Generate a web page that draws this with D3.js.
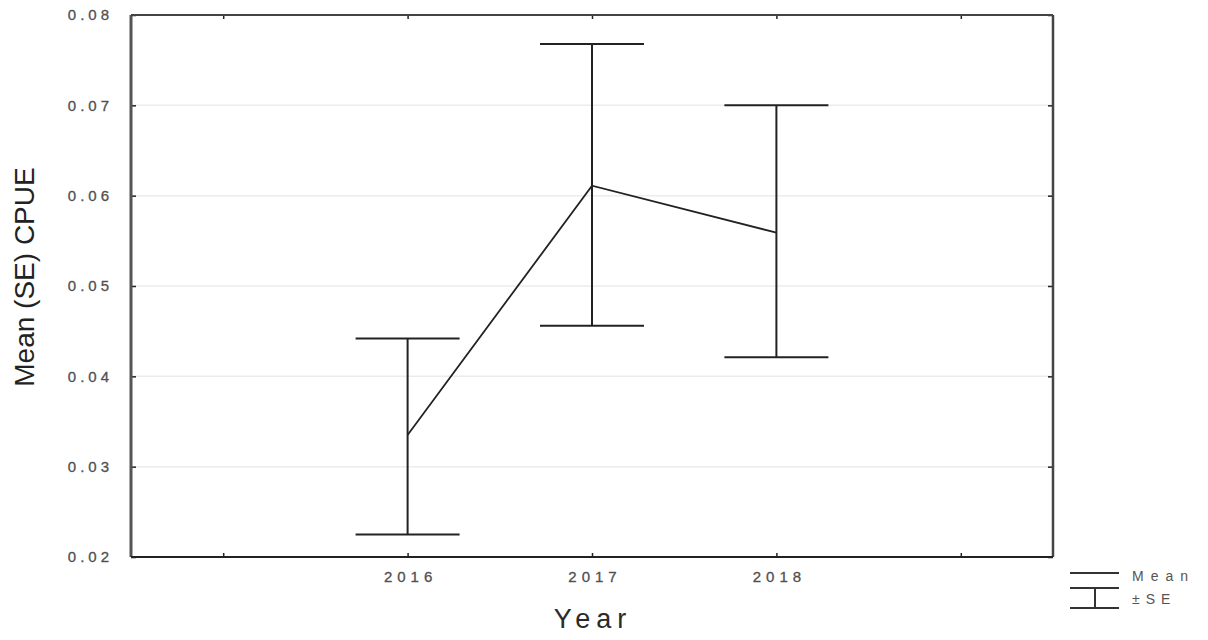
<!DOCTYPE html>
<html>
<head>
<meta charset="utf-8">
<script src="https://cdn.jsdelivr.net/npm/d3@7/dist/d3.min.js"></script>
<style>
  html, body { margin: 0; padding: 0; background: #fff; }
  svg { display: block; }
  text { font-family: "Liberation Sans", Arial, sans-serif; }
</style>
</head>
<body>
<svg id="chart" width="1208" height="640"></svg>
<script>
// Yearly mean CPUE with standard-error bounds
const years = [2016, 2017, 2018];
const meanCPUE = [0.0335, 0.0611, 0.0559];
const upperSE = [0.0442, 0.0768, 0.0700];
const lowerSE = [0.0225, 0.0456, 0.0421];
const yTicks = [0.02, 0.03, 0.04, 0.05, 0.06, 0.07, 0.08];
const xTicks = [2015, 2016, 2017, 2018, 2019];
const xLabels = ["", "2016", "2017", "2018", ""];

const svg = d3.select("#chart");
const m = { left: 131, right: 1053, top: 15, bottom: 557 };

const x = d3.scaleLinear().domain([2014.5, 2019.5]).range([m.left, m.right]);
const y = d3.scaleLinear().domain([0.02, 0.08]).range([m.bottom, m.top]);

// horizontal gridlines
svg.append("g").selectAll("line")
  .data(yTicks.slice(1, -1))
  .join("line")
  .attr("x1", m.left).attr("x2", m.right)
  .attr("y1", d => y(d)).attr("y2", d => y(d))
  .attr("stroke", "#ececec").attr("stroke-width", 1.5);

// axes with inward ticks
const fmt = d3.format(".2f");
const leftAxis = svg.append("g").attr("transform", `translate(${m.left},0)`)
  .call(d3.axisLeft(y).tickValues(yTicks).tickSize(-5).tickPadding(18).tickFormat(fmt));
const rightAxis = svg.append("g").attr("transform", `translate(${m.right},0)`)
  .call(d3.axisRight(y).tickValues(yTicks).tickSize(-5).tickFormat(""));
const bottomAxis = svg.append("g").attr("transform", `translate(0,${m.bottom})`)
  .call(d3.axisBottom(x).tickValues(xTicks).tickSize(-4).tickPadding(14).tickFormat((d, i) => xLabels[i]));
const topAxis = svg.append("g").attr("transform", `translate(0,${m.top})`)
  .call(d3.axisTop(x).tickValues(xTicks).tickSize(-4).tickFormat(""));

[leftAxis, rightAxis, bottomAxis, topAxis].forEach(g => {
  g.select(".domain").remove();
  g.selectAll(".tick line").attr("stroke", "#222").attr("stroke-width", 1.5);
});
leftAxis.selectAll(".tick text")
  .attr("font-size", 15).attr("fill", "#505050").attr("letter-spacing", "4px")
  .attr("stroke", "#505050").attr("stroke-width", 0.3);
bottomAxis.selectAll(".tick text")
  .attr("font-size", 15).attr("fill", "#505050").attr("letter-spacing", "5px")
  .attr("dx", "2.5px")
  .attr("stroke", "#505050").attr("stroke-width", 0.3);

// frame
svg.append("line").attr("x1", m.left).attr("x2", m.left).attr("y1", m.top).attr("y2", m.bottom)
  .attr("stroke", "#555").attr("stroke-width", 3);
svg.append("line").attr("x1", m.right).attr("x2", m.right).attr("y1", m.top).attr("y2", m.bottom)
  .attr("stroke", "#444").attr("stroke-width", 2.5);
svg.append("line").attr("x1", m.left).attr("x2", m.right).attr("y1", m.top).attr("y2", m.top)
  .attr("stroke", "#444").attr("stroke-width", 2);
svg.append("line").attr("x1", m.left).attr("x2", m.right).attr("y1", m.bottom).attr("y2", m.bottom)
  .attr("stroke", "#222").attr("stroke-width", 2);

// error bars
const capHalf = 52;
const bars = svg.append("g").attr("stroke", "#222").attr("stroke-width", 2).attr("fill", "none");
years.forEach((yr, i) => {
  const cx = x(yr);
  bars.append("line").attr("x1", cx).attr("x2", cx)
    .attr("y1", y(upperSE[i])).attr("y2", y(lowerSE[i]));
  bars.append("line").attr("x1", cx - capHalf).attr("x2", cx + capHalf)
    .attr("y1", y(upperSE[i])).attr("y2", y(upperSE[i]));
  bars.append("line").attr("x1", cx - capHalf).attr("x2", cx + capHalf)
    .attr("y1", y(lowerSE[i])).attr("y2", y(lowerSE[i]));
});

// mean line
svg.append("path")
  .datum(years.map((yr, i) => [yr, meanCPUE[i]]))
  .attr("fill", "none").attr("stroke", "#222").attr("stroke-width", 1.8)
  .attr("d", d3.line().x(d => x(d[0])).y(d => y(d[1])));

// axis titles
svg.append("text")
  .attr("transform", `translate(34,277) rotate(-90)`)
  .attr("text-anchor", "middle").attr("font-size", 28).attr("fill", "#222")
  .text("Mean (SE) CPUE");
svg.append("text")
  .attr("x", 593).attr("y", 628)
  .attr("text-anchor", "middle").attr("font-size", 27).attr("fill", "#2a2a2a")
  .attr("letter-spacing", "6px")
  .text("Year");

// legend
const lg = svg.append("g").attr("stroke", "#333").attr("stroke-width", 2);
lg.append("line").attr("x1", 1070).attr("x2", 1119).attr("y1", 573).attr("y2", 573);
lg.append("line").attr("x1", 1070).attr("x2", 1119).attr("y1", 588).attr("y2", 588);
lg.append("line").attr("x1", 1070).attr("x2", 1119).attr("y1", 608).attr("y2", 608);
lg.append("line").attr("x1", 1095).attr("x2", 1095).attr("y1", 588).attr("y2", 608);
svg.append("text").attr("x", 1132).attr("y", 581)
  .attr("font-size", 14).attr("fill", "#555").attr("letter-spacing", "7px").text("Mean");
svg.append("text").attr("x", 1132).attr("y", 604)
  .attr("font-size", 14).attr("fill", "#555").attr("letter-spacing", "6px").text("±SE");
</script>
</body>
</html>
